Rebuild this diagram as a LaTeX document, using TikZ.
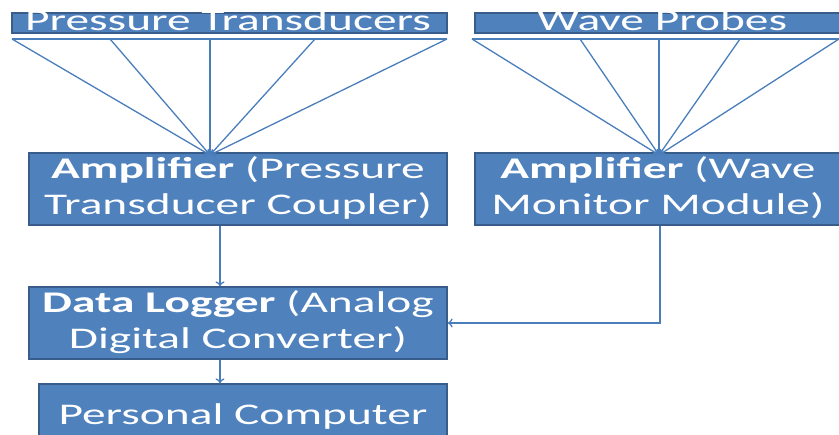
\documentclass[tikz,border=0pt]{standalone}
\usepackage{fontspec}
\setmainfont{Carlito}
\usetikzlibrary{arrows.meta}
\definecolor{boxfill}{HTML}{4F81BD}
\definecolor{boxline}{HTML}{385D8A}
\definecolor{wire}{HTML}{4A7EBB}
\newcommand{\stx}[1]{\scalebox{1.58}[1]{\begin{tabular}{@{}c@{}}#1\end{tabular}}}
\begin{document}
\begin{tikzpicture}[x=1pt,y=-1pt,
  box/.style={draw=boxline, fill=boxfill, line width=1.2pt, inner sep=0pt, text=white,
    font=\fontsize{30}{36}\selectfont},
  txt/.style={inner sep=0pt, text=white, font=\fontsize{30}{36}\selectfont},
  wireln/.style={draw=wire, line width=1.3pt},
  arr/.style={wireln, -{To[length=5pt,width=9pt]}}]
\useasboundingbox (0,0) rectangle (839,435);
\clip (0,0) rectangle (839,435);
% top boxes
\node[box, minimum width=435pt, minimum height=20pt] (pt) at (229.5,23) {};
\node[box, minimum width=366pt, minimum height=20pt] (wp) at (658,23) {};
\begin{scope}
  \clip (12,13) rectangle (447,33);
  \node[txt, anchor=base] (ptt) at (228,31) {\scalebox{1.58}[1]{Pressure Transducers}};
\end{scope}
\begin{scope}
  \clip (475,13) rectangle (841,33);
  \node[txt, anchor=base] (wpt) at (662,31) {\scalebox{1.58}[1]{Wave Probes}};
\end{scope}
% main boxes
\node[box, minimum width=418pt, minimum height=66pt] (ampP) at (238,189)
  {\stx{\textbf{Amplifier} (Pressure\\Transducer Coupler)}};
\node[box, minimum width=366pt, minimum height=66pt] (ampW) at (658,189)
  {\stx{\textbf{Amplifier} (Wave\\Monitor Module)}};
\node[box, minimum width=418pt, minimum height=66pt] (dl) at (238,323)
  {\stx{\textbf{Data Logger} (Analog\\Digital Converter)}};
\node[box, minimum width=408pt, minimum height=66pt] (pc) at (243,417)
  {\stx{Personal Computer}};
% fan coordinates, pressure transducers
\coordinate (pa) at (12,39);
\coordinate (pb) at (110,39);
\coordinate (pcc) at (210,39);
\coordinate (pd) at (315,39);
\coordinate (pe) at (447,39);
\coordinate (pf) at (210,155);
\draw[wireln] (pa) -- (pe);
\foreach \s in {pa,pb,pcc,pd,pe} \draw[arr] (\s) -- (pf);
% fan coordinates, wave probes
\coordinate (wa) at (472,39);
\coordinate (wb) at (580,39);
\coordinate (wc) at (659,39);
\coordinate (wd) at (740,39);
\coordinate (we) at (839,39);
\coordinate (wf) at (659,155);
\draw[wireln] (wa) -- (we);
\foreach \s in {wa,wb,wc,wd,we} \draw[arr] (\s) -- (wf);
% connectors
\draw[arr] (ampP.south -| 220,0) -- (dl.north -| 220,0);
\draw[arr] (dl.south -| 220,0) -- (pc.north -| 220,0);
\draw[arr] (ampW.south -| 660,0) |- (dl.east |- 0,323);
\end{tikzpicture}
\end{document}
